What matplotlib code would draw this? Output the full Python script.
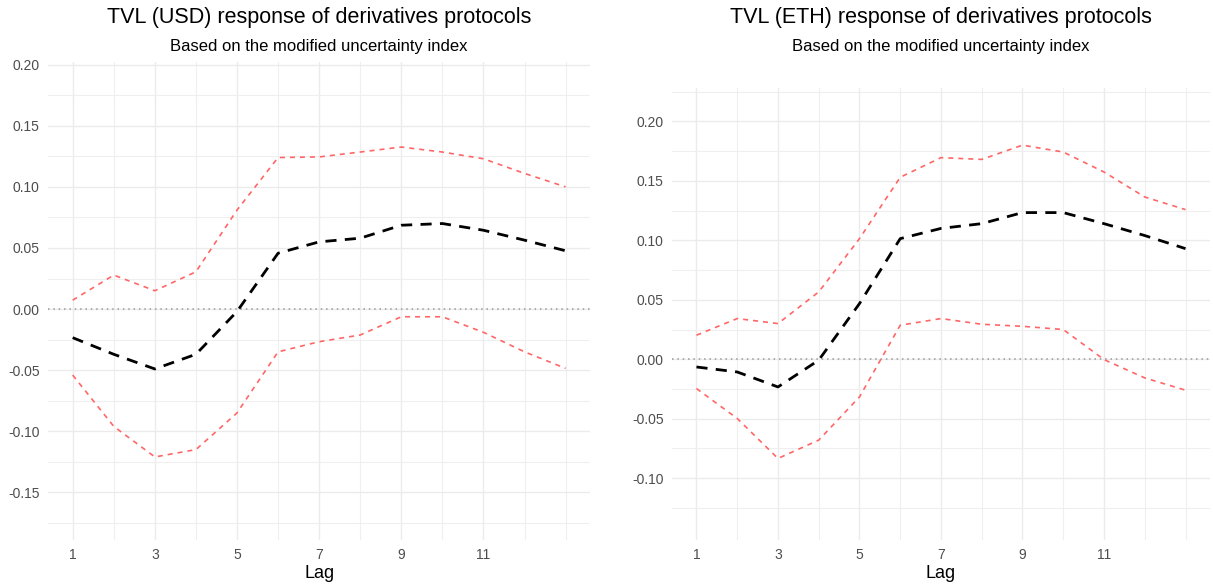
import numpy as np
import matplotlib.pyplot as plt

plt.rcParams['font.family'] = ['Liberation Sans', 'DejaVu Sans']

lags = np.arange(1, 14)

# TVL (USD)
usd_irf = [-0.0234, -0.037, -0.049, -0.037, -0.002, 0.0457, 0.055, 0.058, 0.0686, 0.070, 0.0645, 0.0564, 0.0477]
usd_upper = [0.0073, 0.0278, 0.015, 0.0305, 0.081, 0.124, 0.1245, 0.1285, 0.1326, 0.1285, 0.123, 0.111, 0.100]
usd_lower = [-0.054, -0.096, -0.121, -0.115, -0.085, -0.035, -0.0267, -0.0212, -0.0063, -0.0063, -0.019, -0.035, -0.0485]

# TVL (ETH)
eth_irf = [-0.0065, -0.0107, -0.0233, -0.0008, 0.0468, 0.1014, 0.110, 0.114, 0.1233, 0.1233, 0.114, 0.104, 0.093]
eth_upper = [0.0202, 0.0342, 0.030, 0.0566, 0.1014, 0.153, 0.1695, 0.168, 0.180, 0.1742, 0.1574, 0.1364, 0.1258]
eth_lower = [-0.0246, -0.0498, -0.0834, -0.068, -0.0317, 0.0286, 0.0342, 0.0294, 0.0277, 0.025, -0.0003, -0.0157, -0.026]

titles = ['TVL (USD) response of derivatives protocols', 'TVL (ETH) response of derivatives protocols']
subtitle = 'Based on the modified uncertainty index'

fig = plt.figure(figsize=(12.13, 5.87), dpi=100)
ax1 = fig.add_axes([0.0396, 0.080, 0.447, 0.814])
ax2 = fig.add_axes([0.554, 0.080, 0.4435, 0.770])

grey = '#4D4D4D'
for ax, irf, up, lo, title, ylim, yt in [
        (ax1, usd_irf, usd_upper, usd_lower, titles[0], (-0.189, 0.202), np.arange(-0.15, 0.201, 0.05)),
        (ax2, eth_irf, eth_upper, eth_lower, titles[1], (-0.152, 0.228), np.arange(-0.10, 0.201, 0.05))]:
    ax.set_xticks([1, 3, 5, 7, 9, 11])
    ax.set_xticks(lags, minor=True)
    ax.set_yticks(yt)
    ax.set_yticks(np.arange(-0.175, 0.251, 0.05), minor=True)
    ax.set_yticklabels(['%.2f' % v for v in yt])
    ax.set_xlim(0.4, 13.6)
    ax.set_ylim(*ylim)
    ax.grid(which='major', color='#EBEBEB', lw=1.0)
    ax.grid(which='minor', color='#EFEFEF', lw=0.8)
    ax.set_axisbelow(True)
    for s in ax.spines.values():
        s.set_visible(False)
    ax.tick_params(which='both', length=0, labelsize=10, labelcolor=grey, pad=6)
    ax.axhline(0, color='#999999', lw=1.1, ls=(0, (1, 2.5)))
    ax.plot(lags, up, color='#FF6666', lw=1.2, ls=(0, (3, 3)))
    ax.plot(lags, lo, color='#FF6666', lw=1.2, ls=(0, (3, 3)))
    ax.plot(lags, irf, color='black', lw=2.0, ls=(0, (4, 3)))
    ax.set_xlabel('Lag', fontsize=13, labelpad=2)
    pos = ax.get_position()
    cx = (pos.x0 + pos.x1) / 2
    fig.text(cx, 1 - 18 / 587, title, ha='center', va='center', fontsize=15.5)
    fig.text(cx, 1 - 46 / 587, subtitle, ha='center', va='center', fontsize=12)

fig.savefig('out.png', dpi=100)
